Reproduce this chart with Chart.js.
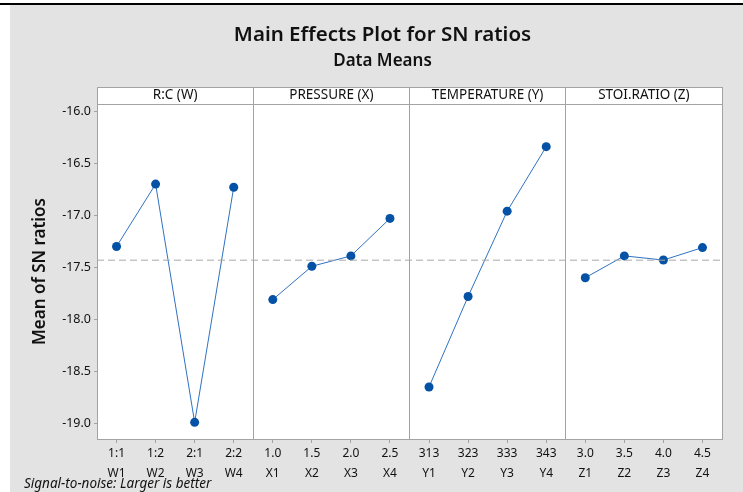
<!DOCTYPE html>
<html>
<head>
<meta charset="utf-8">
<script src="https://cdn.jsdelivr.net/npm/chart.js@4"></script>
<style>
  html, body { margin: 0; padding: 0; background: #fff; }
  body { width: 743px; height: 492px; position: relative; overflow: hidden; }
  #rule { position: absolute; left: 0; top: 3px; width: 743px; height: 2px; background: #000; }
  #panel { position: absolute; left: 10px; top: 5px; width: 733px; height: 487px; background: #e3e3e3; }
  #note { position: absolute; left: 24px; top: 475px; font: italic 13.5px "Noto Sans", sans-serif; color: #111; line-height: 16px; white-space: nowrap; }
</style>
</head>
<body>
<div id="rule"></div>
<div id="panel"><canvas id="mainEffects" width="733" height="487"></canvas></div>
<div id="note">Signal-to-noise: Larger is better</div>
<script>
// factor names (panel headers)
const factorNames = ['R:C (W)', 'PRESSURE (X)', 'TEMPERATURE (Y)', 'STOI.RATIO (Z)'];

// level values and codes per factor
const wLevels = ['1:1', '1:2', '2:1', '2:2'];
const xLevels = ['1.0', '1.5', '2.0', '2.5'];
const yLevels = ['313', '323', '333', '343'];
const zLevels = ['3.0', '3.5', '4.0', '4.5'];
const wCodes = ['W1', 'W2', 'W3', 'W4'];
const xCodes = ['X1', 'X2', 'X3', 'X4'];
const yCodes = ['Y1', 'Y2', 'Y3', 'Y4'];
const zCodes = ['Z1', 'Z2', 'Z3', 'Z4'];

// mean SN ratios
const snW = [-17.30, -16.70, -18.99, -16.73];
const snX = [-17.81, -17.49, -17.39, -17.03];
const snY = [-18.65, -17.78, -16.96, -16.34];
const snZ = [-17.60, -17.39, -17.43, -17.31];

// y axis range and ticks
const yMin = -19.15;
const yMax = -15.93;
const yStep = 0.5;

const frameColor = '#a3a3a3';
const lineBlue = '#2f72c2';
const dotBlue = '#0352a5';
const fontFamily = '"Noto Sans", "Open Sans", sans-serif';

const levels = [wLevels, xLevels, yLevels, zLevels];
const codes = [wCodes, xCodes, yCodes, zCodes];
const series = [snW, snX, snY, snZ];

const labels = [];
levels.forEach((lv, i) => lv.forEach((l, j) => labels.push([l, codes[i][j]])));

const allValues = series.flat();
const grandMean = allValues.reduce((a, b) => a + b, 0) / allValues.length;

const datasets = series.map((vals, i) => {
  const data = new Array(labels.length).fill(null);
  vals.forEach((v, j) => { data[i * 4 + j] = v; });
  return {
    label: factorNames[i],
    data: data,
    xAxisID: 'x',
    borderColor: lineBlue,
    borderWidth: 1,
    pointRadius: 4.5,
    pointBackgroundColor: dotBlue,
    pointBorderColor: dotBlue,
    pointBorderWidth: 0,
    tension: 0,
    spanGaps: false,
  };
});

// dashed grand mean line across all panels
datasets.unshift({
  label: 'mean',
  data: [{ x: 0, y: grandMean }, { x: 1, y: grandMean }],
  xAxisID: 'xRef',
  borderColor: '#a8a8a8',
  borderWidth: 1,
  borderDash: [7, 4],
  pointRadius: 0,
});

// white plot + header strip behind the panels
const panelBackground = {
  id: 'panelBackground',
  beforeDraw(chart) {
    const { ctx, chartArea: a } = chart;
    const head = chart.scales.xHead;
    ctx.save();
    ctx.fillStyle = '#fff';
    ctx.fillRect(a.left, head.top, a.right - a.left, a.bottom - head.top);
    ctx.strokeStyle = frameColor;
    ctx.lineWidth = 1;
    ctx.beginPath();
    ctx.moveTo(a.left, Math.round(head.top) + 0.5);
    ctx.lineTo(a.right, Math.round(head.top) + 0.5);
    ctx.stroke();
    ctx.restore();
  }
};

const chart = new Chart(document.getElementById('mainEffects'), {
  type: 'line',
  data: { labels: labels, datasets: datasets },
  plugins: [panelBackground],
  options: {
    responsive: false,
    animation: false,
    events: [],
    layout: { padding: { top: 0, left: 33, right: 21, bottom: 0 } },
    plugins: {
      legend: { display: false },
      tooltip: { enabled: false },
      title: {
        display: true,
        text: 'Main Effects Plot for SN ratios',
        color: '#111',
        font: { family: fontFamily, size: 20.5, weight: '600' },
        padding: { top: 18, bottom: 3 },
      },
      subtitle: {
        display: true,
        text: 'Data Means',
        color: '#111',
        font: { family: fontFamily, size: 17, weight: '600' },
        padding: { top: 0, bottom: 16 },
      },
    },
    scales: {
      x: {
        type: 'category',
        position: 'bottom',
        offset: true,
        grid: { display: true, offset: false, drawOnChartArea: false, drawTicks: true, tickLength: 4, color: frameColor },
        border: { display: true, color: frameColor },
        ticks: { color: '#111', padding: 0, autoSkip: false, maxRotation: 0, font: { family: fontFamily, size: 12, lineHeight: 1.7 } },
        afterFit(scale) { scale.height = 53; },
      },
      xHead: {
        type: 'category',
        position: 'top',
        labels: factorNames,
        offset: true,
        grid: { display: true, offset: true, drawOnChartArea: true, drawTicks: true, tickLength: 17, color: frameColor },
        border: { display: true, color: frameColor },
        ticks: { color: '#111', padding: -16.6, autoSkip: false, maxRotation: 0, font: { family: fontFamily, size: 13.5 } },
        afterFit(scale) { scale.height = 17; },
      },
      xRef: {
        type: 'linear',
        display: false,
        min: 0,
        max: 1,
      },
      y: {
        type: 'linear',
        position: 'left',
        min: yMin,
        max: yMax,
        grid: { display: true, drawOnChartArea: false, drawTicks: true, tickLength: 3, color: frameColor },
        border: { display: true, color: frameColor },
        ticks: {
          stepSize: yStep,
          includeBounds: false,
          padding: 3,
          color: '#111',
          font: { family: fontFamily, size: 12.5 },
          callback: (v) => v.toFixed(1),
        },
        title: {
          display: true,
          text: 'Mean of SN ratios',
          color: '#111',
          font: { family: fontFamily, size: 17, weight: '600' },
          padding: { top: -13.2, bottom: 0 },
        },
        afterFit(scale) { scale.width = 54; },
      },
    },
  },
});
</script>
</body>
</html>
